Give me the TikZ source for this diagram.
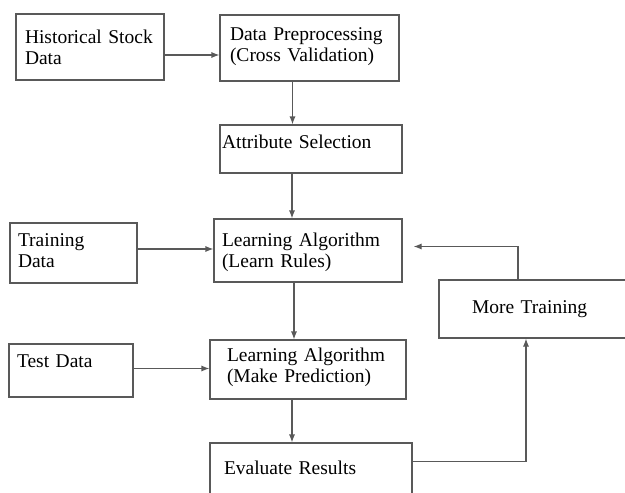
\documentclass[tikz,border=0pt]{standalone}
\usepackage{fontspec}
\setmainfont{Liberation Serif}
\usetikzlibrary{arrows.meta}

\begin{document}
\begin{tikzpicture}[x=1pt,y=-1pt,
  box/.style={draw=black!65,line width=1.1pt,inner sep=0pt,align=left,text=black,font=\fontsize{19.5}{21}\selectfont},
  arr/.style={draw=black!65,line width=1.1pt,-{Latex[length=8pt,width=6pt]}}]
  \useasboundingbox (0,0) rectangle (625,493);
  \node[box,minimum width=148pt,minimum height=66pt,text width=130pt,text depth=21pt] (hist) at (90,47) {Historical Stock\\Data};
  \node[box,minimum width=179pt,minimum height=66pt,text width=159pt,text depth=27pt] (prep) at (309.5,48) {Data Preprocessing\\(Cross Validation)};
  \node[box,minimum width=182pt,minimum height=48pt,text width=178pt,text depth=14pt] (attr) at (311,149) {Attribute Selection};
  \node[box,minimum width=127pt,minimum height=60pt,text width=111pt,text depth=25pt] (train) at (73.5,253) {Training\\Data};
  \node[box,minimum width=188pt,minimum height=63pt,text width=172pt,text depth=21pt] (learn) at (308,250.5) {Learning Algorithm\\(Learn Rules)};
  \node[box,minimum width=192pt,minimum height=58pt,text width=126pt,text depth=4pt] (more) at (535,309) {More Training};
  \node[box,minimum width=124pt,minimum height=53pt,text width=108pt,text depth=18pt] (test) at (71,370.5) {Test Data};
  \node[box,minimum width=196pt,minimum height=59pt,text width=162pt,text depth=30pt] (pred) at (308,369.5) {Learning Algorithm\\(Make Prediction)};
  \node[box,minimum width=202pt,minimum height=57pt,text width=174pt,text depth=7pt] (eval) at (311,471.5) {Evaluate Results};
  \coordinate (back) at ([xshift=11pt,yshift=4pt]learn.east);
  \draw[arr] ([yshift=-8pt]hist.east) -- ([yshift=-7pt]prep.west);
  \draw[arr] ([xshift=-17pt]prep.south) -- ([xshift=-17pt]prep.south |- attr.north);
  \draw[arr] ([xshift=-19pt]attr.south) -- ([xshift=-19pt]attr.south |- learn.north);
  \draw[arr] ([yshift=4pt]train.east) -- ([yshift=4pt]train.east -| learn.west);
  \draw[arr] ([xshift=-14pt]learn.south) -- ([xshift=-14pt]learn.south |- pred.north);
  \draw[arr] ([yshift=2pt]test.east) -- ([yshift=2pt]test.east -| pred.west);
  \draw[arr] ([xshift=-16pt]pred.south) -- ([xshift=-16pt]pred.south |- eval.north);
  \draw[arr] ([yshift=10pt]eval.east) -| ([xshift=-9pt]more.south);
  \draw[arr] ([xshift=-17pt]more.north) |- (back);
\end{tikzpicture}
\end{document}
